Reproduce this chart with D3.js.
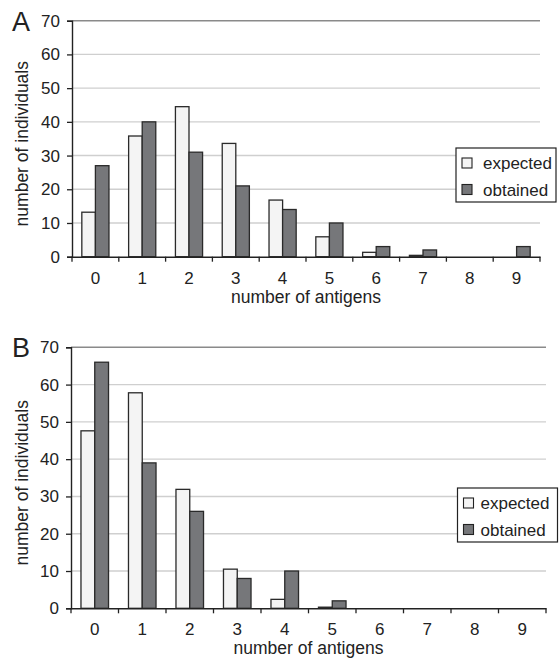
<!DOCTYPE html>
<html lang="en">
<head>
<meta charset="UTF-8" />
<title>Expected vs obtained antigens</title>
<script src="https://d3js.org/d3.v7.min.js"></script>
<style>
    body { margin: 0; background: #fff; }
    svg text { font-family: "Liberation Sans", Arial, sans-serif; fill: #222; }
</style>
</head>
<body>
<svg id="chart" width="559" height="662"></svg>
<script>
    // categories: number of antigens
    const categories = ["0", "1", "2", "3", "4", "5", "6", "7", "8", "9"];
    const seriesNames = ["expected", "obtained"];
    const yTicks = [0, 10, 20, 30, 40, 50, 60, 70];

    // panel A
    const expectedA = [13.2, 35.8, 44.5, 33.6, 16.8, 5.9, 1.3, 0.4, 0, 0];
    const obtainedA = [27, 40, 31, 21, 14, 10, 3, 2, 0, 3];

    // panel B
    const expectedB = [47.6, 57.8, 31.9, 10.5, 2.4, 0.3, 0, 0, 0, 0];
    const obtainedB = [66, 39, 26, 8, 10, 2, 0, 0, 0, 0];

    const colors = { expected: "#f4f4f4", obtained: "#76777a" };

    const svg = d3.select("#chart");

    function drawPanel(opt) {
        const g = svg.append("g");

        const x = d3.scaleBand()
            .domain(categories)
            .range([opt.left, opt.right])
            .paddingInner(0.42)
            .paddingOuter(0.21);

        const xSub = d3.scaleBand()
            .domain(seriesNames)
            .range([0, x.bandwidth()]);

        const y = d3.scaleLinear()
            .domain([0, 70])
            .range([opt.bottom, opt.top]);

        // gridlines
        g.selectAll(".grid")
            .data(yTicks.filter(d => d > 0))
            .enter().append("line")
            .attr("x1", opt.left)
            .attr("x2", opt.right)
            .attr("y1", d => y(d))
            .attr("y2", d => y(d))
            .attr("stroke", d => d === 70 ? "#8a8a8a" : "#cfcfcf")
            .attr("stroke-width", 1.4);

        // bars
        const rows = categories.map((c, i) => ({
            cat: c,
            vals: [
                { key: "expected", v: opt.expected[i] },
                { key: "obtained", v: opt.obtained[i] }
            ]
        }));

        g.selectAll(".grp")
            .data(rows)
            .enter().append("g")
            .attr("transform", d => `translate(${x(d.cat)},0)`)
            .selectAll("rect")
            .data(d => d.vals.filter(v => v.v > 0))
            .enter().append("rect")
            .attr("x", d => xSub(d.key))
            .attr("width", xSub.bandwidth())
            .attr("y", d => y(d.v))
            .attr("height", d => y(0) - y(d.v))
            .attr("fill", d => colors[d.key])
            .attr("stroke", "#2a2a2a")
            .attr("stroke-width", 1.3);

        // y axis
        const yAxis = g.append("g")
            .attr("transform", `translate(${opt.left},0)`)
            .call(d3.axisLeft(y).tickValues(yTicks).tickSize(5).tickPadding(7));
        yAxis.select(".domain").attr("stroke", "#222").attr("stroke-width", 1.4);
        yAxis.selectAll(".tick line").attr("stroke", "#222").attr("stroke-width", 1.3);
        yAxis.selectAll("text").attr("font-size", "17px").attr("fill", "#222");

        // x axis, ticks between categories
        const step = x.step();
        const xAxis = g.append("g")
            .attr("transform", `translate(0,${opt.bottom})`)
            .call(d3.axisBottom(x).tickSize(0).tickPadding(15));
        xAxis.select(".domain").attr("stroke", "#222").attr("stroke-width", 1.4);
        xAxis.selectAll("text").attr("font-size", "17px").attr("fill", "#222");
        xAxis.selectAll(".sep")
            .data(d3.range(categories.length + 1))
            .enter().append("line")
            .attr("x1", i => opt.left + i * step)
            .attr("x2", i => opt.left + i * step)
            .attr("y1", 0)
            .attr("y2", 5)
            .attr("stroke", "#222")
            .attr("stroke-width", 1.3);

        // axis titles
        g.append("text")
            .attr("x", (opt.left + opt.right) / 2)
            .attr("y", opt.bottom + 46)
            .attr("text-anchor", "middle")
            .attr("font-size", "17.5px")
            .text("number of antigens");

        g.append("text")
            .attr("transform", `translate(28,${(opt.top + opt.bottom) / 2 + 5}) rotate(-90)`)
            .attr("text-anchor", "middle")
            .attr("font-size", "17.5px")
            .text("number of individuals");

        // panel letter
        g.append("text")
            .attr("x", 12)
            .attr("y", opt.top + 10)
            .attr("font-size", "27px")
            .text(opt.label);

        // legend
        const lg = g.append("g").attr("transform", `translate(${opt.legend[0]},${opt.legend[1]})`);
        lg.append("rect")
            .attr("width", 100)
            .attr("height", 54)
            .attr("fill", "#fff")
            .attr("stroke", "#222")
            .attr("stroke-width", 1.2);
        seriesNames.forEach((s, i) => {
            lg.append("rect")
                .attr("x", 6)
                .attr("y", 10 + i * 26.5)
                .attr("width", 10)
                .attr("height", 10)
                .attr("fill", colors[s])
                .attr("stroke", "#222")
                .attr("stroke-width", 1.1);
            lg.append("text")
                .attr("x", opt.legendText)
                .attr("y", 21 + i * 26.5)
                .attr("font-size", "17px")
                .text(s);
        });
    }

    drawPanel({
        label: "A", expected: expectedA, obtained: obtainedA,
        left: 72, right: 540, top: 20.7, bottom: 256.7,
        legend: [456, 148], legendText: 27
    });

    drawPanel({
        label: "B", expected: expectedB, obtained: obtainedB,
        left: 71, right: 546, top: 347.3, bottom: 608.3,
        legend: [457.5, 488], legendText: 23
    });
</script>
</body>
</html>
